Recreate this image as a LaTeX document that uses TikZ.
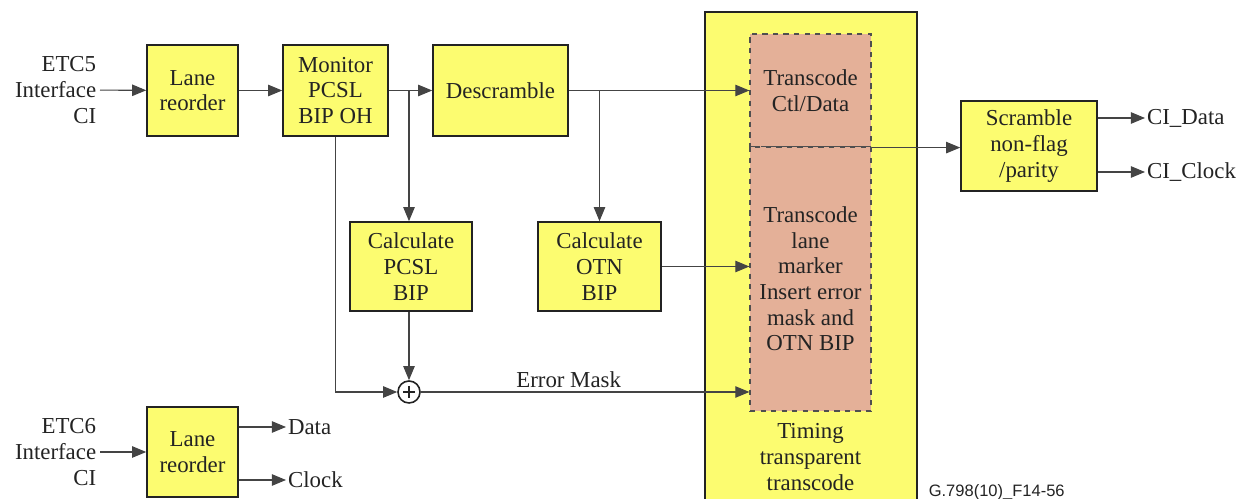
\documentclass[tikz,border=0pt]{standalone}
\usepackage{fontspec}
\setmainfont{Liberation Serif}
\newfontfamily\blkfont{Liberation Serif}
\newfontfamily\figfont{Liberation Sans}
\usetikzlibrary{arrows.meta,calc}
\definecolor{blkyellow}{RGB}{252,252,112}
\definecolor{salmon}{RGB}{228,176,152}
\definecolor{ink}{RGB}{35,35,35}
\begin{document}
\begin{tikzpicture}[x=0.02cm,y=-0.02cm,
  every node/.style={font=\blkfont\fontsize{13}{14.6}\selectfont, text=ink},
  blk/.style={draw=ink, line width=0.9pt, fill=blkyellow, align=center, inner sep=1pt},
  tcbox/.style={draw=ink!80, dashed, line width=0.7pt, fill=salmon, align=center, inner sep=1pt},
  arr/.style={draw=ink!85, line width=0.6pt, -{Triangle[length=8pt,width=6.5pt]}},
  lbl/.style={align=right, inner sep=2pt}]
  \useasboundingbox (0,0) rectangle (1242,499);

  % ETC5 path
  \node[lbl, anchor=east] (etc5) at (100,90) {ETC5\\Interface\\CI};
  \node[blk, minimum width=1.82cm, minimum height=1.82cm] (lane1) at (192.5,90.5) {Lane\\reorder};
  \node[blk, minimum width=2.1cm, minimum height=1.82cm] (mon) at (335.5,90.5) {Monitor\\PCSL\\BIP OH};
  \node[blk, minimum width=2.7cm, minimum height=1.82cm] (desc) at (500.5,90.5) {Descramble};
  \node[blk, minimum width=2.44cm, minimum height=1.78cm] (calcp) at (411,266.5) {Calculate\\PCSL\\BIP};
  \node[blk, minimum width=2.46cm, minimum height=1.78cm] (calco) at (599.5,266.5) {Calculate\\OTN\\BIP};

  % timing transparent transcode block
  \fill[blkyellow] (705,12) rectangle (917,499);
  \draw[ink, line width=0.9pt] (705,499) -- (705,12) -- (917,12) -- (917,499);
  \node[tcbox, minimum width=2.42cm, minimum height=2.26cm] (tcctl) at (810.5,90.5) {Transcode\\Ctl/Data};
  \node[tcbox, minimum width=2.42cm, minimum height=5.28cm] (tclane) at (810.5,279)
    {Transcode\\lane\\marker\\Insert error\\mask and\\OTN BIP};
  \node[align=center] (timing) at (810.5,457) {Timing\\transparent\\transcode};

  \node[blk, minimum width=2.72cm, minimum height=1.8cm] (scr) at (1029,146) {Scramble\\non-flag\\/parity};
  \node[anchor=west, inner sep=1pt] (cidata) at (1145,118) {CI\_Data};
  \node[anchor=west, inner sep=1pt] (ciclock) at (1145,172) {CI\_Clock};

  \node[circle, draw=ink, line width=0.9pt, fill=white, minimum size=0.44cm, inner sep=0pt,
    path picture={
      \draw[ink, line width=1.4pt] ($(path picture bounding box.center)+(-6,0)$) -- ($(path picture bounding box.center)+(6,0)$);
      \draw[ink, line width=1.4pt] ($(path picture bounding box.center)+(0,-6)$) -- ($(path picture bounding box.center)+(0,6)$);
    }] (plus) at (409,392) {};

  % ETC6 path
  \node[lbl, anchor=east] (etc6) at (100,452) {ETC6\\Interface\\CI};
  \node[blk, minimum width=1.82cm, minimum height=1.8cm] (lane2) at (192.5,452) {Lane\\reorder};
  \node[anchor=west, inner sep=1pt] (data) at (286,427) {Data};
  \node[anchor=west, inner sep=1pt] (clock) at (286,480) {Clock};

  \node[anchor=base east, inner sep=0pt, font=\figfont\fontsize{9.4}{11}\selectfont] (fig) at (1065,497) {G.798(10)\_F14-56};

  % connectors
  \draw[arr] (etc5) -- (lane1);
  \draw[arr] (lane1) -- (mon);
  \draw[arr] (mon) -- (desc);
  \coordinate (br1) at (plus.north |- desc.west);
  \draw[arr] (br1) -- (plus.north |- calcp.north);
  \draw[arr] (desc) -- (tcctl);
  \coordinate (br2) at (calco.north |- desc.east);
  \draw[arr] (br2) -- (calco.north);
  \draw[arr] (calco.east) -- (calco.east -| tclane.west);
  \draw[arr] (mon.south) |- (plus.west);
  \draw[arr] (plus.north |- calcp.south) -- (plus.north);
  \draw[arr] (plus.east) -- (plus -| tclane.west)
    node[pos=0.45, above, inner sep=2pt] (emask) {Error Mask};
  \draw[arr] (tcctl.south east) -- (tcctl.south east -| scr.west);
  \draw[arr] (cidata.west -| scr.east) -- (cidata.west);
  \draw[arr] (ciclock.west -| scr.east) -- (ciclock.west);
  \draw[arr] (etc6) -- (lane2);
  \draw[arr] (data.west -| lane2.east) -- (data.west);
  \draw[arr] (clock.west -| lane2.east) -- (clock.west);
\end{tikzpicture}
\end{document}
